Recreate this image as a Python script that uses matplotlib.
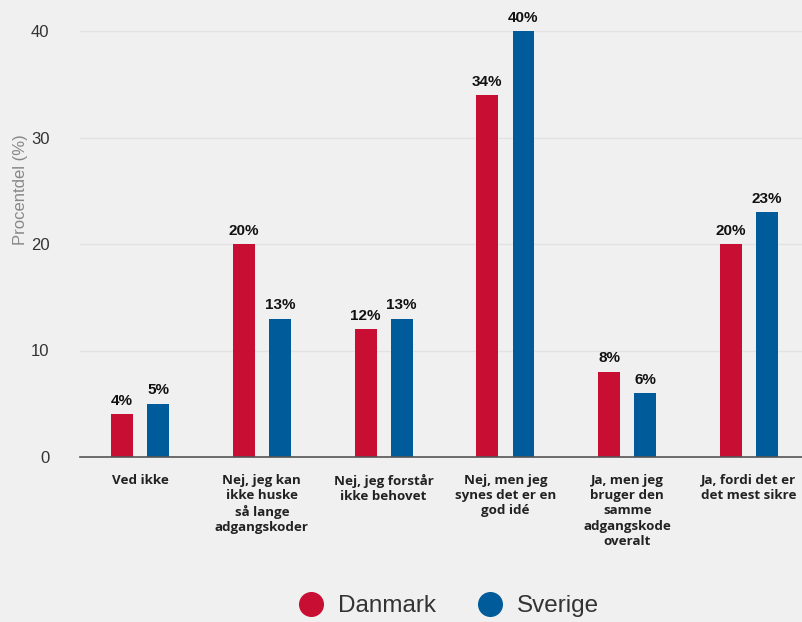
import matplotlib
matplotlib.use('Agg')
import numpy as np
from matplotlib import pyplot
from matplotlib.lines import Line2D

categories = [
    'Ved ikke',
    'Nej, jeg kan\nikke huske\nså lange\nadgangskoder',
    'Nej, jeg forstår\nikke behovet',
    'Nej, men jeg\nsynes det er en\ngod idé',
    'Ja, men jeg\nbruger den\nsamme\nadgangskode\noveralt',
    'Ja, fordi det er\ndet mest sikre',
]
danmark = [4, 20, 12, 34, 8, 20]
sverige = [5, 13, 13, 40, 6, 23]
series_names = ['Danmark', 'Sverige']
yticks = [0, 10, 20, 30, 40]

red = '#c80e32'
blue = '#005b9b'
bg = '#f0f0f0'

fig = pyplot.figure(figsize=(8.03, 6.22), dpi=100, facecolor=bg)
ax = fig.add_axes([80 / 803, 165 / 622, 723 / 803, 426 / 622], facecolor=bg)

x = np.arange(len(categories))
offset = 0.148
width = 0.18
b1 = ax.bar(x - offset, danmark, width, color=red, zorder=3)
b2 = ax.bar(x + offset, sverige, width, color=blue, zorder=3)

for bars, vals in ((b1, danmark), (b2, sverige)):
    for bar, v in zip(bars, vals):
        ax.text(bar.get_x() + bar.get_width() / 2, v + 0.6, f'{v}%',
                ha='center', va='bottom', fontsize=11, fontweight='bold',
                family='Liberation Sans', color='#111111', clip_on=False)

ax.set_xlim(-0.493, 5.443)
ax.set_ylim(0, 40)
ax.set_yticks(yticks)
ax.set_yticklabels([str(t) for t in yticks], fontsize=12, family='Liberation Sans', color='#333333')
ax.set_xticks(x)
ax.set_xticklabels(categories, fontsize=9.6, family='Open Sans', fontweight='bold',
                   color='#222222', linespacing=1.24, va='top')
ax.tick_params(axis='both', length=0)
ax.tick_params(axis='x', pad=12)
ax.tick_params(axis='y', pad=22)

ax.grid(axis='y', color='#e2e2e2', linewidth=1, zorder=0)
for s in ('top', 'right', 'left'):
    ax.spines[s].set_visible(False)
ax.spines['bottom'].set_color('#555555')
ax.spines['bottom'].set_linewidth(1.2)
ax.spines['bottom'].set_zorder(4)

ax.set_ylabel('Procentdel (%)', fontsize=12, family='Liberation Sans', color='#888888')
ax.yaxis.set_label_coords(-0.072, 0.627)

handles = [Line2D([], [], marker='o', linestyle='', markersize=17, color=c) for c in (red, blue)]
fig.legend(handles, series_names, loc='center', bbox_to_anchor=(443 / 803, 1 - 606 / 622),
           ncol=2, frameon=False, prop={'family': 'Liberation Sans', 'size': 17.5},
           handletextpad=0.1, columnspacing=1.25, labelcolor='#333333')

pyplot.savefig('out.png', dpi=100, facecolor=bg)
